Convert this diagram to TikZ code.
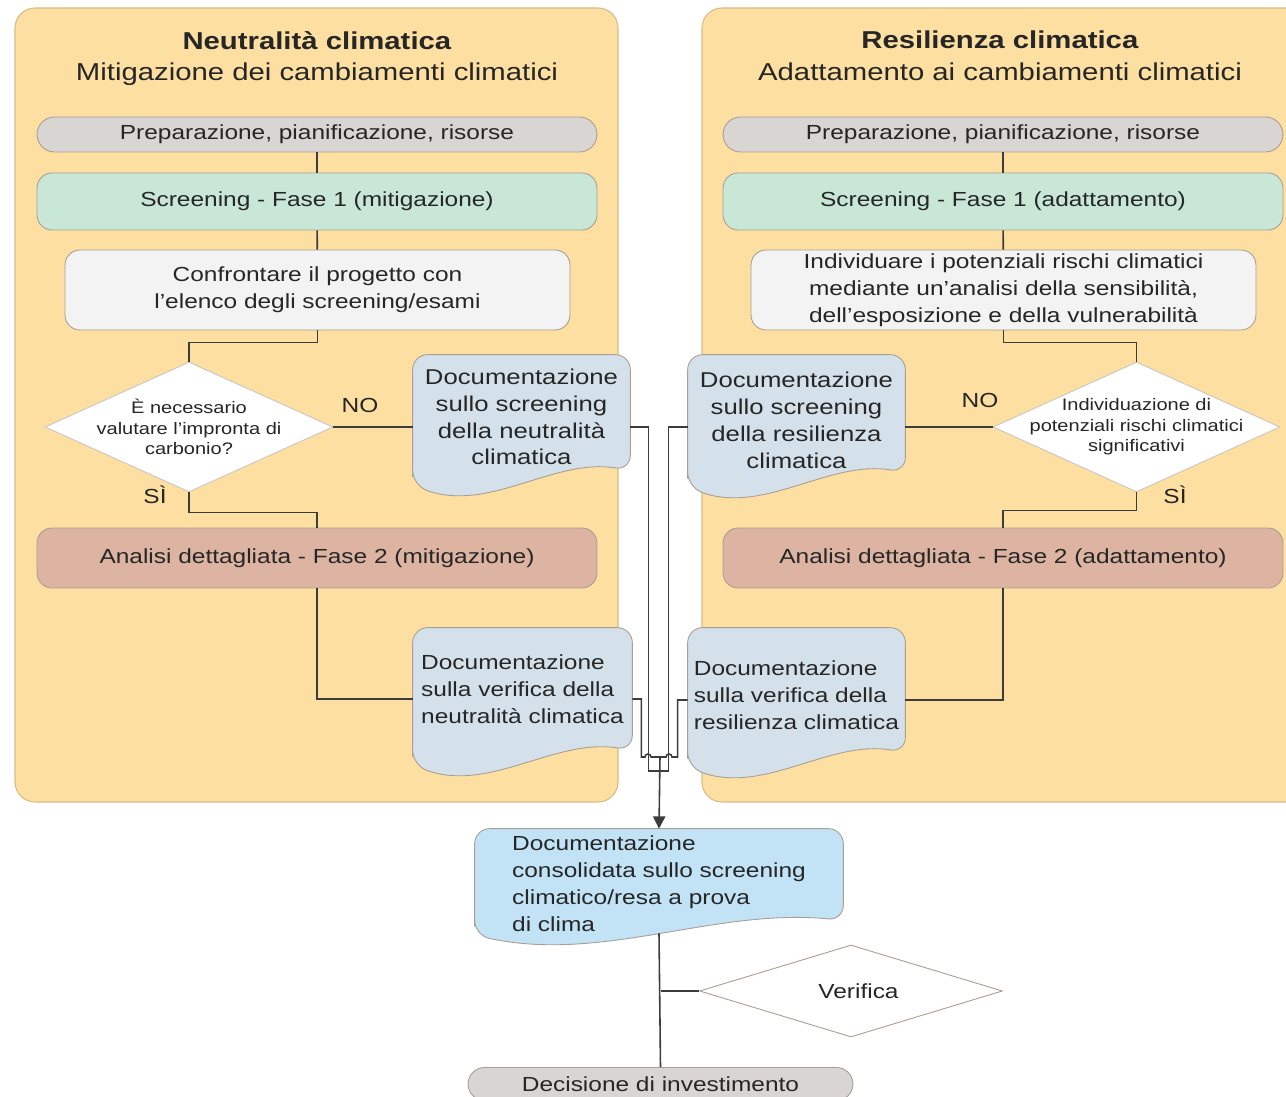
\documentclass[tikz,border=0pt]{standalone}
\usepackage{fontspec}
\setmainfont{Liberation Sans}[FakeStretch=1.2]
\usepackage{tikz}
\usetikzlibrary{arrows.meta}
\usetikzlibrary{calc}
\usetikzlibrary{shapes.geometric}

\definecolor{panelfill}{HTML}{FDDFA2}
\definecolor{panelline}{HTML}{D8BC86}
\definecolor{prepfill}{HTML}{D9D5D2}
\definecolor{screenfill}{HTML}{C9E7D7}
\definecolor{listfill}{HTML}{F3F3F3}
\definecolor{detailfill}{HTML}{DDB4A2}
\definecolor{docfill}{HTML}{D5E1EA}
\definecolor{finalfill}{HTML}{C2E3F6}
\definecolor{boxline}{HTML}{A89E94}
\definecolor{connline}{HTML}{3C3C3C}
\definecolor{textcol}{HTML}{262626}

\pgfdeclarelayer{panels}
\pgfdeclarelayer{docs}
\pgfsetlayers{panels,docs,main}

\newcommand{\boxfont}{\fontsize{11.6pt}{15.3pt}\selectfont}
\newcommand{\docshape}[3]{%
    \path[fill=#2, draw=boxline, line width=0.5pt, rounded corners=0.3cm]
        ([yshift=#3-0.3cm]#1.south west) -- (#1.north west) -- (#1.north east) -- ([yshift=#3]#1.south east)
        .. controls ($(#1.south east)!0.35!(#1.south west)+(0,#3+0.25cm)$) and ($(#1.south east)!0.65!(#1.south west)+(0,#3-0.85cm)$) .. ([yshift=#3-0.3cm]#1.south west) -- cycle;
}

\tikzset{
    panel/.style={draw=panelline, fill=panelfill, rounded corners=0.4cm, line width=0.6pt},
    heading/.style={align=center, font=\fontsize{13.9pt}{18.1pt}\selectfont, text=textcol},
    stepbox/.style={draw=boxline, line width=0.5pt, rounded corners=0.3cm, minimum width=11.2cm, align=center, font=\boxfont, text=textcol, inner sep=0pt},
    prepbox/.style={stepbox, fill=prepfill, minimum height=0.7cm, rounded corners=0.35cm},
    screenbox/.style={stepbox, fill=screenfill, minimum height=1.14cm},
    listbox/.style={stepbox, fill=listfill, minimum width=10.1cm, minimum height=1.6cm},
    detailbox/.style={stepbox, fill=detailfill, minimum height=1.2cm},
    question/.style={diamond, draw=boxline!60, fill=white, line width=0.5pt, aspect=2.2, inner sep=-0.6cm, align=center, font=\fontsize{9.5pt}{11.6pt}\selectfont, text=textcol},
    docbox/.style={inner sep=0pt, minimum width=4.34cm, align=center, font=\fontsize{12.2pt}{15.3pt}\selectfont, text=textcol},
    proofbox/.style={inner sep=0pt, minimum width=4.34cm, align=left, font=\boxfont, text=textcol},
    answer/.style={font=\boxfont, text=textcol},
    conn/.style={draw=connline, line width=0.9pt},
}

\begin{document}
\begin{tikzpicture}[x=0.02cm, y=-0.02cm]
    \useasboundingbox (0,0) rectangle (1286,1097);
    \begin{pgfonlayer}{panels}
        \draw[panel] (15,8) rectangle (618,802);
        \draw[panel] (702,8) rectangle (1320,802);
    \end{pgfonlayer}

    % mitigazione
    \node[heading] (headL) at (317,58.5) {\textbf{Neutralità climatica}\\Mitigazione dei cambiamenti climatici};
    \node[prepbox] (pL) at (317,134.5) {Preparazione, pianificazione, risorse};
    \node[screenbox] (sL) at (317,201.5) {Screening - Fase 1 (mitigazione)};
    \node[listbox] (cL) at (317.5,290) {Confrontare il progetto con\\l'elenco degli screening/esami};
    \node[question, minimum width=5.76cm, minimum height=2.6cm] (d1) at (189,427) {È necessario\\valutare l'impronta di\\carbonio?};
    \node[docbox, minimum height=2.48cm] (dsL) at (521.5,417) {Documentazione\\sullo screening\\della neutralità\\climatica};
    \node[detailbox] (aL) at (317,558) {Analisi dettagliata - Fase 2 (mitigazione)};
    \node[proofbox, minimum width=4.38cm, minimum height=2.44cm] (dvL) at (522.5,689) {Documentazione\\sulla verifica della\\neutralità climatica};
    \node[answer] (noL) at (360,405) {NO};
    \node[answer] (siL) at (155,495) {SÌ};

    % adattamento
    \node[heading] (headR) at (1000,56) {\textbf{Resilienza climatica}\\Adattamento ai cambiamenti climatici};
    \node[prepbox] (pR) at (1003,134.5) {Preparazione, pianificazione, risorse};
    \node[screenbox] (sR) at (1003,201.5) {Screening - Fase 1 (adattamento)};
    \node[listbox] (cR) at (1003.5,290) {Individuare i potenziali rischi climatici\\mediante un'analisi della sensibilità,\\dell'esposizione e della vulnerabilità};
    \node[question, minimum width=5.74cm, minimum height=2.6cm, inner sep=-0.7cm] (d2) at (1136.5,427) {Individuazione di\\potenziali rischi climatici\\significativi};
    \node[docbox, minimum height=2.62cm] (dsR) at (796.5,420.5) {Documentazione\\sullo screening\\della resilienza\\climatica};
    \node[detailbox] (aR) at (1003,558) {Analisi dettagliata - Fase 2 (adattamento)};
    \node[proofbox, minimum height=2.68cm] (dvR) at (796.5,695) {Documentazione\\sulla verifica della\\resilienza climatica};
    \node[answer] (noR) at (980,400) {NO};
    \node[answer] (siR) at (1175,495) {SÌ};

    % sintesi
    \node[proofbox, minimum width=7.36cm, minimum height=2.18cm] (final) at (659,883.5) {Documentazione\\consolidata sullo screening\\climatico/resa a prova\\di clima};
    \node[question, draw=boxline, minimum width=6.06cm, minimum height=1.84cm, inner sep=-0.3cm, font=\boxfont] (ver) at (851,991) {\hspace*{0.3cm}Verifica};
    \node[prepbox, minimum width=7.7cm, minimum height=0.66cm, rounded corners=0.33cm] (dec) at (660.5,1084) {Decisione di investimento};

    \begin{pgfonlayer}{docs}
        \foreach \d/\lift in {dsL/0.18cm, dsR/0.28cm, dvL/0cm, dvR/0.2cm} {\docshape{\d}{docfill}{\lift}}
        \docshape{final}{finalfill}{0.36cm}
    \end{pgfonlayer}

    \coordinate (joinOut) at (660,757);
    \coordinate (joinIn) at (660,771);

    \draw[conn] (pL) -- (sL);
    \draw[conn] (sL) -- (cL);
    \draw[conn] (cL.south) -- ++(0,-0.24cm) -| (d1.north);
    \draw[conn] (d1.east) -- (d1.east -| dsL.west);
    \draw[conn] (d1.south) -- ++(0,-0.4cm) -| (aL.north);
    \draw[conn] (aL.south) |- ([yshift=-0.2cm]dvL.west);

    \draw[conn] (pR) -- (sR);
    \draw[conn] (sR) -- (cR);
    \draw[conn] (cR.south) -- ++(0,-0.24cm) -| (d2.north);
    \draw[conn] (d2.west) -- (d2.west -| dsR.east);
    \draw[conn] (d2.south) -- ++(0,-0.36cm) -| (aR.north);
    \draw[conn] (aR.south) |- ([yshift=-0.1cm]dvR.east);

    \draw[conn] (dsL.east |- d1.east) -- ++(0.36cm,0) |- (joinIn);
    \draw[conn] (dsR.west |- d2.west) -- ++(-0.38cm,0) |- (joinIn);
    \draw[conn] ([yshift=-0.2cm]dvL.east) -- ++(0.18cm,0) |- ([xshift=-0.3cm]joinOut) arc[start angle=180, end angle=0, radius=0.06cm] -- (joinOut);
    \draw[conn] ([yshift=-0.1cm]dvR.west) -- ++(-0.2cm,0) |- ([xshift=0.24cm]joinOut) arc[start angle=0, end angle=180, radius=0.06cm] -- (joinOut);
    \draw[conn, -{Triangle[length=7pt, width=7pt]}] (joinOut) -- (final.north);
    \draw[conn] ([yshift=0.1cm]final.south) -- (dec.north);
    \draw[conn] (dec.north |- ver.west) -- (ver.west);
\end{tikzpicture}
\end{document}
